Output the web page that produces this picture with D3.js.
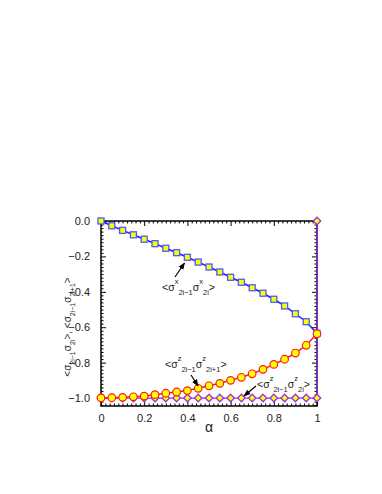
<!DOCTYPE html>
<html>
<head>
<meta charset="utf-8">
<script src="https://cdn.jsdelivr.net/npm/d3@7"></script>
<style>
  body { margin: 0; background: #fff; }
  svg text { font-family: "Liberation Sans", Arial, sans-serif; }
</style>
</head>
<body>
<svg id="chart" width="382" height="494"></svg>
<script>
// values
const alpha = [0, 0.05, 0.1, 0.15, 0.2, 0.25, 0.3, 0.35, 0.4, 0.45, 0.5,
    0.55, 0.6, 0.65, 0.7, 0.75, 0.8, 0.85, 0.9, 0.95, 1];
const sxx = [0, -0.027, -0.053, -0.078, -0.103, -0.128, -0.154, -0.179, -0.205, -0.232, -0.260,
    -0.288, -0.318, -0.346, -0.377, -0.408, -0.442, -0.480, -0.524, -0.569, -0.635];
const szzNext = [-0.999, -0.998, -0.996, -0.993, -0.989, -0.981, -0.973, -0.966, -0.958, -0.945, -0.931,
    -0.917, -0.900, -0.883, -0.863, -0.838, -0.810, -0.781, -0.746, -0.702, -0.637];
const szz = [-1, -1, -1, -1, -1, -1, -1, -1, -1, -1, -1,
    -1, -1, -1, -1, -1, -1, -1, -1, -1, -1];
// purple series jumps to 0 right at alpha = 1
const szzEndAlpha = 1, szzEndValue = 0;
const xTicks = [0, 0.2, 0.4, 0.6, 0.8, 1];
const yTicks = [0, -0.2, -0.4, -0.6, -0.8, -1.0];

const svg = d3.select("#chart");
const mLeft = 101, mRight = 317, mTop = 221, mBottom = 406;

const x = d3.scaleLinear().domain([0, 1]).range([mLeft, mRight]);
const y = d3.scaleLinear().domain([-1.045, 0]).range([mBottom, mTop]);

const minorX = d3.range(0, 1.0001, 0.02).filter(v => !xTicks.some(t => Math.abs(t - v) < 1e-6));
const minorY = d3.range(0, -1.045, -0.02).filter(v => !yTicks.some(t => Math.abs(t - v) < 1e-6));

const fmtX = d => (d === 0 || d === 1) ? d3.format("d")(d) : d3.format(".1f")(d);

// axes, ticks pointing inward
const axisG = svg.append("g").attr("class", "axes");
const addAxis = (axisFn, scale, ticks, minor, tf, labels, pad) => {
    const g = axisG.append("g").attr("transform", tf);
    g.call(axisFn(scale).tickValues(ticks).tickSize(-5).tickPadding(pad || 0)
        .tickFormat(labels ? labels : ""));
    g.append("g").call(axisFn(scale).tickValues(minor).tickSize(-2.5).tickFormat(""));
    g.selectAll(".domain").remove();
    g.selectAll("line").attr("stroke", "#000").attr("stroke-width", 1);
    g.selectAll("text").attr("font-size", 11).attr("fill", "#222");
    return g;
};
addAxis(d3.axisBottom, x, xTicks, minorX, `translate(0,${mBottom})`, fmtX, 8);
addAxis(d3.axisTop, x, xTicks, minorX, `translate(0,${mTop})`, null);
addAxis(d3.axisLeft, y, yTicks, minorY, `translate(${mLeft},0)`, d3.format(".1f"), 11);
addAxis(d3.axisRight, y, yTicks, minorY, `translate(${mRight},0)`, null);
svg.append("rect").attr("x", mLeft).attr("y", mTop).attr("width", mRight - mLeft).attr("height", mBottom - mTop)
    .attr("fill", "none").attr("stroke", "#000").attr("stroke-width", 1.5);

// series
const line = d3.line().x(d => x(d[0])).y(d => y(d[1]));
const purplePts = alpha.map((a, i) => [a, szz[i]]).concat([[szzEndAlpha, szzEndValue]]);
const bluePts = alpha.map((a, i) => [a, sxx[i]]);
const redPts = alpha.map((a, i) => [a, szzNext[i]]);

const purple = "#9a32e6", blue = "#1a1aff", red = "#ff1a1a", yellow = "#ffff00";

svg.append("path").attr("d", line(purplePts)).attr("fill", "none").attr("stroke", purple).attr("stroke-width", 1.3);
svg.append("g").selectAll("path").data(purplePts).join("path")
    .attr("transform", d => `translate(${x(d[0])},${y(d[1])})`)
    .attr("d", d3.symbol(d3.symbolDiamond2, 36)())
    .attr("fill", yellow).attr("stroke", purple).attr("stroke-width", 1.3);

svg.append("path").attr("d", line(bluePts)).attr("fill", "none").attr("stroke", blue).attr("stroke-width", 1.5);
svg.append("g").selectAll("rect").data(bluePts).join("rect")
    .attr("x", d => x(d[0]) - 3).attr("y", d => y(d[1]) - 3)
    .attr("width", 6).attr("height", 6)
    .attr("fill", yellow).attr("stroke", "#4a5cff").attr("stroke-width", 1.3);

svg.append("path").attr("d", line(redPts)).attr("fill", "none").attr("stroke", red).attr("stroke-width", 1.5);
svg.append("g").selectAll("circle").data(redPts).join("circle")
    .attr("cx", d => x(d[0])).attr("cy", d => y(d[1])).attr("r", 3.8)
    .attr("fill", yellow).attr("stroke", red).attr("stroke-width", 1.2);

// labels with super/subscripts that follow one another
const richText = (g, parts, size, small, up, down) => {
    const t = g.append("text").attr("font-size", size).attr("fill", "#222");
    let shift = 0;
    parts.forEach(([str, kind]) => {
        const target = kind === "sup" ? -up : kind === "sub" ? down : 0;
        t.append("tspan").text(str)
            .attr("font-size", kind ? small : size)
            .attr("dy", target - shift);
        shift = target;
    });
    return t;
};

svg.append("text").attr("x", 209).attr("y", 432).attr("text-anchor", "middle")
    .attr("font-size", 14).attr("fill", "#222").text("α");

const yl = svg.append("g").attr("transform", "translate(71,327) rotate(-90)");
richText(yl, [["<σ", 0], ["2i−1", "sub"], ["σ", 0], ["2i", "sub"], [">, <σ", 0], ["2i−1", "sub"],
    ["σ", 0], ["2i+1", "sub"], [">", 0]], 10, 7, 6, 3.5).attr("text-anchor", "middle");

const ann = [
    { x: 162, y: 291, parts: [["<σ", 0], ["x", "sup"], ["2i−1", "sub"], ["σ", 0], ["x", "sup"], ["2i", "sub"], [">", 0]],
      from: [175, 277], to: [184.5, 263] },
    { x: 165, y: 368, parts: [["<σ", 0], ["z", "sup"], ["2i−1", "sub"], ["σ", 0], ["z", "sup"], ["2i+1", "sub"], [">", 0]],
      from: [191, 375], to: [198, 386] },
    { x: 257, y: 388, parts: [["<σ", 0], ["z", "sup"], ["2i−1", "sub"], ["σ", 0], ["z", "sup"], ["2i", "sub"], [">", 0]],
      from: [256, 386], to: [244, 396] }
];

svg.append("defs").append("marker").attr("id", "arr")
    .attr("viewBox", "0 0 10 10").attr("refX", 9).attr("refY", 5)
    .attr("markerWidth", 6).attr("markerHeight", 6).attr("orient", "auto")
    .append("path").attr("d", "M0,1 L10,5 L0,9 Z").attr("fill", "#000");

ann.forEach(a => {
    const g = svg.append("g").attr("transform", `translate(${a.x},${a.y})`);
    richText(g, a.parts, 10.5, 7.5, 7, 4);
    svg.append("line").attr("x1", a.from[0]).attr("y1", a.from[1])
        .attr("x2", a.to[0]).attr("y2", a.to[1])
        .attr("stroke", "#000").attr("stroke-width", 1.2).attr("marker-end", "url(#arr)");
});
</script>
</body>
</html>
